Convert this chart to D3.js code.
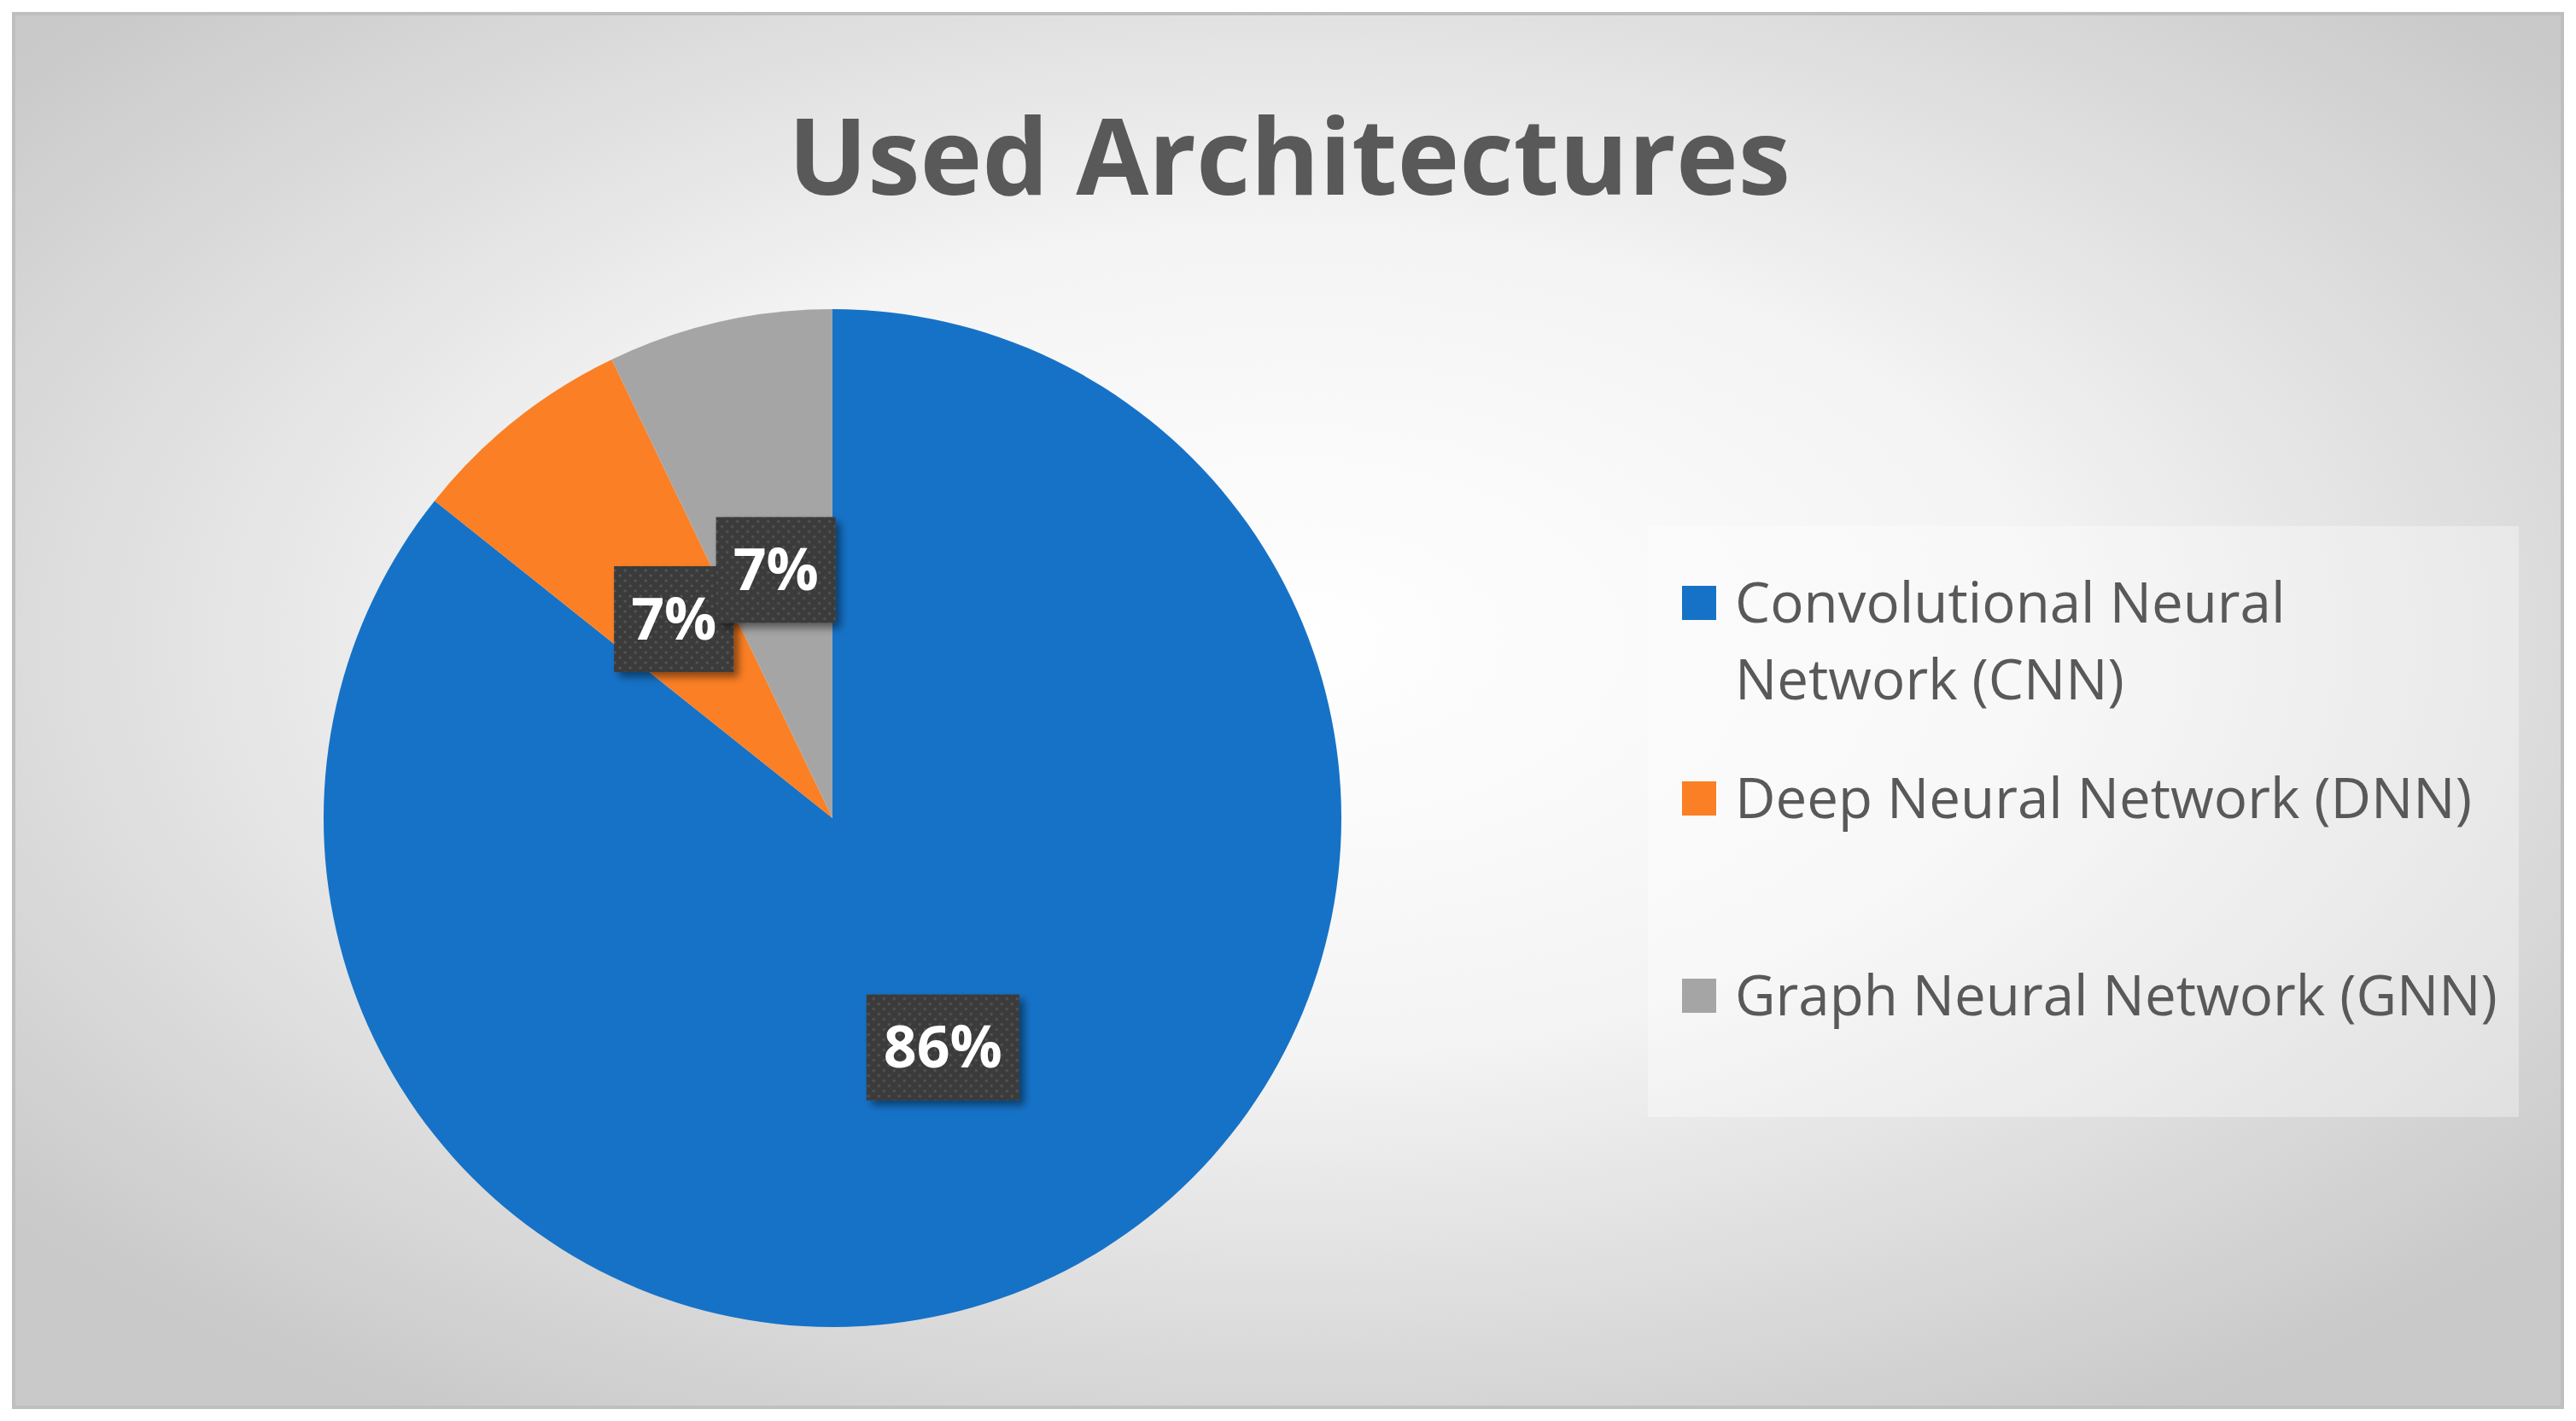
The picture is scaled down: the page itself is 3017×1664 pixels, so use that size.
<!DOCTYPE html>
<html>
<head>
<meta charset="utf-8">
<script src="https://cdn.jsdelivr.net/npm/d3@7"></script>
<style>
  body { margin: 0; background: #fff; }
  svg { display: block; }
</style>
</head>
<body>
<div id="chart-area"></div>
<script>
// chart data
var categories = ['Convolutional Neural Network (CNN)', 'Deep Neural Network (DNN)', 'Graph Neural Network (GNN)'];
var legendLines = [['Convolutional Neural', 'Network (CNN)'], ['Deep Neural Network (DNN)'], ['Graph Neural Network (GNN)']];
var counts = [12, 1, 1];
var labels = ['86%', '7%', '7%'];
var colors = ['#1672c7', '#fb7f24', '#a5a5a5'];
var title = 'Used Architectures';

var W = 3017, H = 1664;
var font = '"Open Sans", "Noto Sans", sans-serif';

var svg = d3.select('#chart-area')
    .append('svg')
    .attr('width', W)
    .attr('height', H);

var defs = svg.append('defs');
var grad = defs.append('radialGradient')
    .attr('id', 'bg')
    .attr('cx', '50%').attr('cy', '45%').attr('r', '65%');
grad.append('stop').attr('offset', '0%').attr('stop-color', '#ffffff');
grad.append('stop').attr('offset', '45%').attr('stop-color', '#f4f4f4');
grad.append('stop').attr('offset', '100%').attr('stop-color', '#c9c9c9');

var pat = defs.append('pattern')
    .attr('id', 'dots')
    .attr('width', 12).attr('height', 12)
    .attr('patternUnits', 'userSpaceOnUse');
pat.append('rect').attr('width', 12).attr('height', 12).attr('fill', '#3b3b3b');
pat.append('circle').attr('cx', 3).attr('cy', 3).attr('r', 1.6).attr('fill', '#575757');
pat.append('circle').attr('cx', 9).attr('cy', 9).attr('r', 1.6).attr('fill', '#575757');

var shadow = defs.append('filter').attr('id', 'shadow')
    .attr('x', '-20%').attr('y', '-20%').attr('width', '150%').attr('height', '150%');
shadow.append('feDropShadow')
    .attr('dx', 6).attr('dy', 6).attr('stdDeviation', 5)
    .attr('flood-color', '#000').attr('flood-opacity', 0.45);

// chart area
svg.append('rect')
    .attr('x', 16).attr('y', 16)
    .attr('width', W - 32).attr('height', H - 32)
    .attr('fill', 'url(#bg)')
    .attr('stroke', '#bfbfbf')
    .attr('stroke-width', 4);

// title
var titleText = svg.append('text')
    .attr('x', 1510).attr('y', 228)
    .attr('text-anchor', 'middle')
    .attr('font-family', font)
    .attr('font-weight', 'bold')
    .attr('font-size', 140)
    .attr('fill', '#595959')
    .text(title);
var tw = titleText.node().getComputedTextLength();
titleText.attr('font-size', 140 * 1174 / tw);

// pie
var cx = 975, cy = 958, radius = 596;
var pie = d3.pie().sort(null).value(function (d) { return d; });
var arc = d3.arc().innerRadius(0).outerRadius(radius);
var arcs = pie(counts);

var g = svg.append('g').attr('transform', 'translate(' + cx + ',' + cy + ')');

g.selectAll('path')
    .data(arcs)
    .enter()
    .append('path')
    .attr('d', arc)
    .attr('fill', function (d, i) { return colors[i]; })
    .attr('stroke', 'none');

// data labels
var lab = g.selectAll('.lab')
    .data(arcs)
    .enter()
    .append('g')
    .attr('class', 'lab')
    .attr('transform', function (d) {
        var c = arc.centroid(d);
        return 'translate(' + c[0] + ',' + c[1] + ')';
    });

lab.each(function (d, i) {
    var sel = d3.select(this);
    var rect = sel.append('rect')
        .attr('fill', 'url(#dots)')
        .attr('filter', 'url(#shadow)');
    var t = sel.append('text')
        .attr('text-anchor', 'middle')
        .attr('dy', '0.35em')
        .attr('font-family', font)
        .attr('font-weight', 'bold')
        .attr('font-size', 68)
        .attr('fill', '#ffffff')
        .text(labels[i]);
    var w = t.node().getComputedTextLength() + 40;
    rect.attr('x', -w / 2).attr('y', -62).attr('width', w).attr('height', 124);
});

// legend
var legend = svg.append('g');
legend.append('rect')
    .attr('x', 1930).attr('y', 616)
    .attr('width', 1020).attr('height', 692)
    .attr('fill', '#ffffff')
    .attr('fill-opacity', 0.35);

var rowY = [706, 935, 1166];
var lineH = 90;
var fontSize = 62;

var items = legend.selectAll('.item')
    .data(legendLines)
    .enter()
    .append('g')
    .attr('class', 'item');

items.append('rect')
    .attr('x', 1970)
    .attr('y', function (d, i) { return rowY[i] - 20; })
    .attr('width', 40).attr('height', 40)
    .attr('fill', function (d, i) { return colors[i]; });

var texts = items.selectAll('text')
    .data(function (d, i) { return d.map(function (l, j) { return { line: l, y: rowY[i] + j * lineH }; }); })
    .enter()
    .append('text')
    .attr('x', 2032)
    .attr('y', function (d) { return d.y; })
    .attr('dy', '0.35em')
    .attr('font-family', font)
    .attr('font-size', fontSize)
    .attr('fill', '#595959')
    .text(function (d) { return d.line; });

var maxW = d3.max(texts.nodes(), function (n) { return n.getComputedTextLength(); });
texts.attr('font-size', fontSize * 893 / maxW);
</script>
</body>
</html>
